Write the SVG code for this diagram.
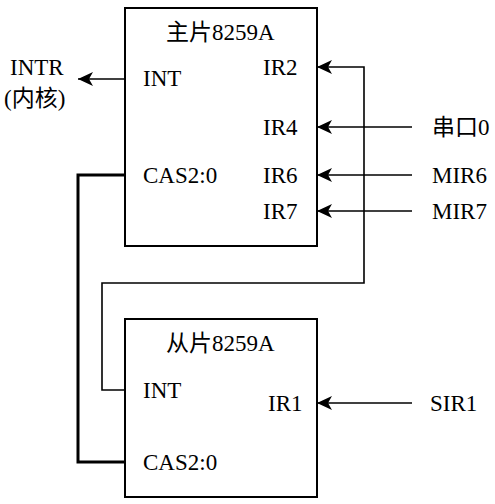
<svg xmlns="http://www.w3.org/2000/svg" width="495" height="504" viewBox="0 0 495 504">
<style>
text{font-family:"Liberation Serif","Noto Sans CJK SC",serif;font-size:23px;fill:#000}
.box{fill:#fff;stroke:#000;stroke-width:2}
.thin{fill:none;stroke:#000;stroke-width:1.6}
.thick{fill:none;stroke:#000;stroke-width:3}
</style>
<defs>
<marker id="ah" markerUnits="userSpaceOnUse" markerWidth="16" markerHeight="14" refX="15" refY="7" orient="auto">
<path d="M0,0 L15,7 L0,14 L4,7 Z" fill="#000"/>
</marker>
</defs>
<g id="master">
<rect class="box" x="125" y="8" width="192" height="238"/>
<text x="166" y="40">主片8259A</text>
<text x="143" y="86">INT</text>
<text x="263" y="75">IR2</text>
<text x="263" y="135">IR4</text>
<text x="263" y="183">IR6</text>
<text x="263" y="219">IR7</text>
<text x="143" y="183">CAS2:0</text>
</g>
<g id="slave">
<rect class="box" x="125" y="319" width="192" height="178"/>
<text x="166" y="351">从片8259A</text>
<text x="143" y="398">INT</text>
<text x="268" y="411">IR1</text>
<text x="143" y="470">CAS2:0</text>
</g>
<g id="labels">
<text x="10" y="75">INTR</text>
<text x="4" y="106">(内核)</text>
<text x="432" y="135">串口0</text>
<text x="432" y="183">MIR6</text>
<text x="432" y="219">MIR7</text>
<text x="430" y="411">SIR1</text>
</g>
<g id="connectors">
<line class="thin" x1="125" y1="79" x2="78" y2="79" marker-end="url(#ah)"/>
<polyline class="thin" points="125,390 102,390 102,283 364,283 364,67 317,67" marker-end="url(#ah)"/>
<line class="thin" x1="412" y1="127" x2="317" y2="127" marker-end="url(#ah)"/>
<line class="thin" x1="412" y1="175" x2="317" y2="175" marker-end="url(#ah)"/>
<line class="thin" x1="412" y1="211" x2="317" y2="211" marker-end="url(#ah)"/>
<line class="thin" x1="412" y1="403" x2="317" y2="403" marker-end="url(#ah)"/>
<polyline class="thick" points="125,175 78,175 78,462 125,462"/>
</g>
</svg>
